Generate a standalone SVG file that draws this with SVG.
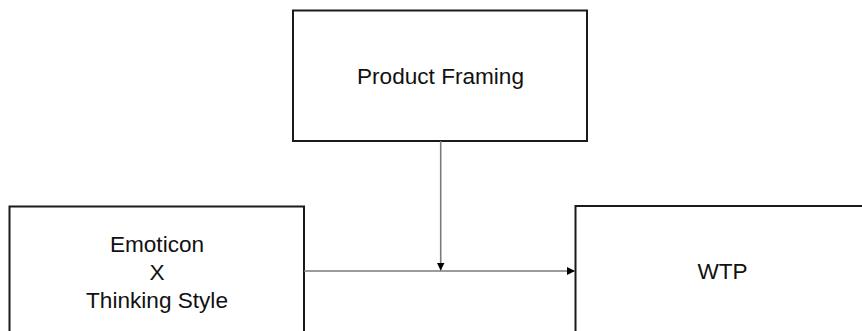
<svg xmlns="http://www.w3.org/2000/svg" width="862" height="331" viewBox="0 0 862 331">
  <style>
    .box { fill: #ffffff; stroke: #1a1a1a; stroke-width: 2; }
    .lbl { font-family: "Liberation Sans", Arial, sans-serif; font-size: 22.6px; fill: #111111; text-anchor: middle; }
    .conn { stroke: #7a7a7a; stroke-width: 1.6; fill: none; }
  </style>
  <defs>
    <marker id="arrow" viewBox="0 0 10 10" refX="10" refY="5" markerWidth="8" markerHeight="8" markerUnits="userSpaceOnUse" orient="auto">
      <path d="M0,0 L10,5 L0,10 Z" fill="#000000"/>
    </marker>
  </defs>
  <rect width="862" height="331" fill="#ffffff"/>
  <g id="product-framing">
    <rect class="box" x="293" y="10.5" width="294" height="130.5"/>
    <text class="lbl" x="440.5" y="84.3">Product Framing</text>
  </g>
  <g id="emoticon-thinking">
    <rect class="box" x="9.5" y="206.5" width="294.5" height="135"/>
    <text class="lbl" x="157" y="252">Emoticon</text>
    <text class="lbl" x="157" y="280">X</text>
    <text class="lbl" x="157" y="308">Thinking Style</text>
  </g>
  <g id="wtp">
    <rect class="box" x="575.5" y="206" width="294" height="135"/>
    <text class="lbl" x="722.5" y="279">WTP</text>
  </g>
  <g id="connectors">
    <line class="conn" x1="304" y1="271" x2="575" y2="271" marker-end="url(#arrow)"/>
    <line class="conn" x1="440.7" y1="141" x2="440.7" y2="270.5" marker-end="url(#arrow)"/>
  </g>
</svg>
